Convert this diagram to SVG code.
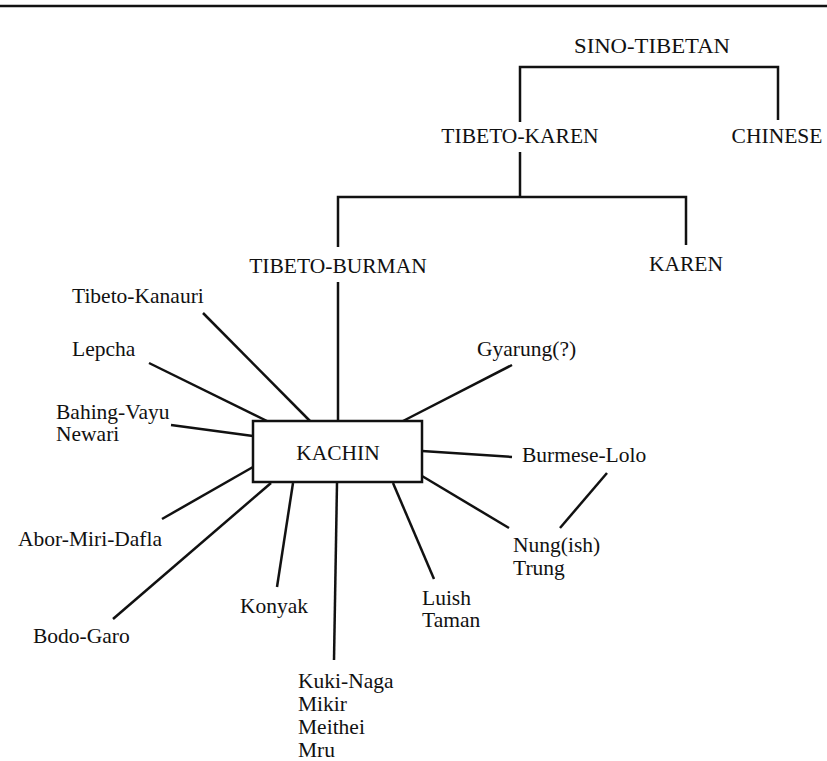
<svg xmlns="http://www.w3.org/2000/svg" width="827" height="761" viewBox="0 0 827 761" font-family="'Liberation Serif', 'DejaVu Serif', 'Times New Roman', serif">
<style>
text{font-family:"Liberation Serif","DejaVu Serif","Times New Roman",serif;font-size:21.5px;fill:#111}
.c{text-anchor:middle}
.ln{stroke:#111;stroke-width:2.5;fill:none;stroke-linecap:butt}
</style>
<rect width="827" height="761" fill="#fff"/>
<line class="ln" x1="0" y1="6" x2="827" y2="6"/>
<g id="connectors">
<polyline class="ln" points="520,122 520,67 778,67 778,120"/>
<line class="ln" x1="520" y1="152" x2="520" y2="197"/>
<polyline class="ln" points="338,247 338,197 686,197 686,245"/>
<line class="ln" x1="338" y1="282" x2="338" y2="421"/>
<line class="ln" x1="203" y1="313" x2="310" y2="421"/>
<line class="ln" x1="149" y1="363" x2="267" y2="421"/>
<line class="ln" x1="171" y1="425" x2="253" y2="436"/>
<line class="ln" x1="253" y1="467" x2="162" y2="519"/>
<line class="ln" x1="271" y1="483" x2="113" y2="619"/>
<line class="ln" x1="293" y1="483" x2="277" y2="587"/>
<line class="ln" x1="337" y1="483" x2="334" y2="660"/>
<line class="ln" x1="393" y1="483" x2="434" y2="579"/>
<line class="ln" x1="422" y1="476" x2="509" y2="528"/>
<line class="ln" x1="422" y1="451" x2="512" y2="457"/>
<line class="ln" x1="607" y1="473" x2="560" y2="528"/>
<line class="ln" x1="403" y1="421" x2="512" y2="365"/>
</g>
<g id="sino-tibetan"><text x="574" y="53" textLength="156" lengthAdjust="spacingAndGlyphs">SINO-TIBETAN</text></g>
<g id="tibeto-karen"><text class="c" x="520" y="143">TIBETO-KAREN</text></g>
<g id="chinese"><text class="c" x="777" y="143">CHINESE</text></g>
<g id="tibeto-burman"><text class="c" x="338" y="273">TIBETO-BURMAN</text></g>
<g id="karen"><text class="c" x="686" y="271">KAREN</text></g>
<g id="kachin"><rect x="253" y="421" width="169" height="61" fill="#fff" stroke="#111" stroke-width="2.5"/><text class="c" x="338" y="460">KACHIN</text></g>
<g id="tibeto-kanauri"><text x="72" y="303">Tibeto-Kanauri</text></g>
<g id="lepcha"><text x="72" y="356">Lepcha</text></g>
<g id="bahing-vayu"><text x="56" y="419">Bahing-Vayu</text><text x="56" y="441">Newari</text></g>
<g id="abor-miri-dafla"><text x="18" y="546">Abor-Miri-Dafla</text></g>
<g id="bodo-garo"><text x="33" y="643">Bodo-Garo</text></g>
<g id="konyak"><text x="240" y="613">Konyak</text></g>
<g id="kuki-naga"><text x="298" y="688">Kuki-Naga</text><text x="298" y="711">Mikir</text><text x="298" y="734">Meithei</text><text x="298" y="757">Mru</text></g>
<g id="luish"><text x="422" y="605">Luish</text><text x="422" y="627">Taman</text></g>
<g id="nung"><text x="513" y="552">Nung(ish)</text><text x="513" y="575">Trung</text></g>
<g id="burmese-lolo"><text x="522" y="462">Burmese-Lolo</text></g>
<g id="gyarung"><text x="477" y="356">Gyarung(?)</text></g>
</svg>
